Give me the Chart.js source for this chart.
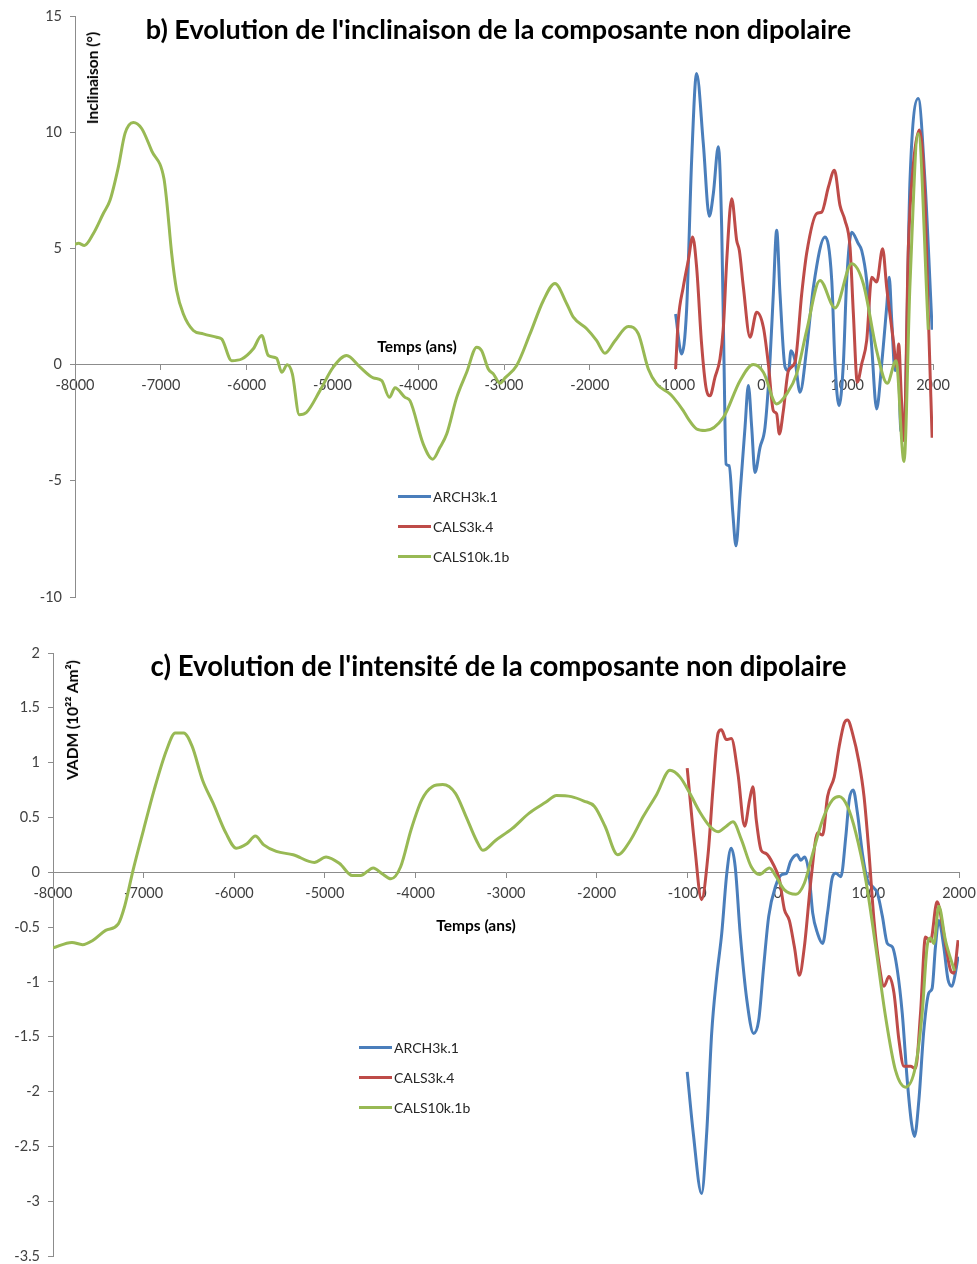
<!DOCTYPE html>
<html lang="fr">
<head>
<meta charset="utf-8">
<script src="https://cdn.jsdelivr.net/npm/chart.js@4.4.1/dist/chart.umd.min.js"></script>
<style>
  body { margin: 0; background: #fff; width: 977px; height: 1264px; position: relative; overflow: hidden; font-family: Lato, "Liberation Sans", sans-serif; }
  .panel { position: absolute; left: 0; width: 977px; }
  .panel canvas { position: absolute; left: 0; top: 0; }
  .title { position: absolute; left: 10px; width: 977px; text-align: center; font-weight: bold; font-size: 27px; color: #000; line-height: 30px; }
  .axis-title { position: absolute; font-weight: bold; font-size: 15.5px; color: #000; white-space: nowrap; line-height: 18px; }
  .vertical { transform: translate(-50%, -50%) rotate(-90deg); }
  .centered { transform: translate(-50%, -50%); }
  .legend { position: absolute; font-size: 14px; color: #262626; }
  .legend .item { height: 29.7px; display: flex; align-items: center; }
  .legend .line { display: inline-block; width: 33px; height: 3px; margin-right: 2px; }
</style>
</head>
<body>

<div class="panel" id="panel-b" style="top:0;height:620px">
  <canvas id="chart-b" width="977" height="620"></canvas>
  <div class="title" style="top:14px">b) Evolution de l'inclinaison de la composante non dipolaire</div>
  <div class="axis-title vertical" style="left:92px;top:78px">Inclinaison (°)</div>
  <div class="axis-title centered" style="left:417px;top:346px">Temps (ans)</div>
  <div class="legend" id="legend-b" style="left:398px;top:482px"></div>
</div>

<div class="panel" id="panel-c" style="top:620px;height:644px">
  <canvas id="chart-c" width="977" height="644"></canvas>
  <div class="title" style="top:31px;font-size:27.6px">c) Evolution de l'intensité de la composante non dipolaire</div>
  <div class="axis-title vertical" style="left:72px;top:100px">VADM (10²² Am²)</div>
  <div class="axis-title centered" style="left:476px;top:305px">Temps (ans)</div>
  <div class="legend" id="legend-c" style="left:359px;top:413px"></div>
</div>

<script>
// Series names and colours
const seriesNames = ['ARCH3k.1', 'CALS3k.4', 'CALS10k.1b'];
const seriesColors = ['#4a7ebb', '#be4b48', '#98b954'];

// b) Inclination (degrees)
const inclYearsArch = [-1000, -930, -872, -813, -755, -677, -607, -560, -502, -463, -436, -412, -374, -335, -296, -249, -191, -152, -113, -75, -16, 42, 100, 139, 178, 217, 276, 315, 346, 392, 450, 528, 606, 742, 820, 858, 905, 955, 994, 1052, 1130, 1169, 1227, 1286, 1343, 1402, 1460, 1490, 1519, 1557, 1596, 1624, 1662, 1732, 1828, 1906, 1990];
const inclArch = [2.18, 0.46, 2.33, 8.8, 12.53, 9.51, 6.38, 7.36, 9.37, 5.92, 0.17, -4.28, -4.35, -6.29, -7.8, -5.57, -2.7, -0.9, -2.7, -4.64, -3.56, -2.7, 0.17, 3.05, 5.78, 3.05, -0.11, -0.26, 0.6, 0.17, -1.19, 0.7, 3.33, 5.49, 3.62, 0.03, -1.77, 0.03, 3.62, 5.7, 5.2, 4.91, 3.62, 0.75, -1.91, 0.03, 2.47, 3.76, 1.9, -0.26, 0.03, -2.84, -2.9, 7.93, 11.45, 7.93, 1.5];

const inclYearsCals3k = [-1000, -969, -911, -852, -801, -755, -697, -646, -599, -541, -483, -443, -404, -346, -288, -257, -210, -133, -55, 23, 81, 139, 178, 209, 256, 315, 392, 470, 528, 645, 703, 781, 851, 916, 974, 1033, 1072, 1118, 1169, 1227, 1286, 1343, 1413, 1460, 1538, 1577, 1600, 1631, 1662, 1713, 1772, 1841, 1906, 1945, 1990];
const inclCals3k = [-0.19, 1.9, 3.33, 4.48, 5.49, 4.19, 0.89, -0.98, -1.34, -0.55, 0.24, 1.61, 4.48, 7.14, 5.34, 4.91, 3.33, 1.18, 2.25, 1.61, 0.03, -1.98, -2.12, -2.99, -1.98, -0.26, 0.1, 3.05, 4.8, 6.5, 6.56, 7.64, 8.36, 6.85, 6.21, 5.06, 2.18, -0.76, 0.03, 1.03, 3.76, 3.55, 4.99, 3.33, 1.03, -0.11, 0.89, -1.41, -3.28, 5.06, 8.65, 10.09, 7.21, 2.18, -3.15];

const inclYearsCals10k = [-8000, -7960, -7890, -7787, -7670, -7592, -7495, -7417, -7320, -7223, -7106, -6963, -6932, -6873, -6815, -6737, -6621, -6505, -6349, -6290, -6174, -6057, -5922, -5824, -5747, -5650, -5591, -5526, -5467, -5386, -5300, -5145, -4990, -4834, -4678, -4523, -4425, -4336, -4270, -4154, -4096, -3941, -3830, -3746, -3668, -3551, -3435, -3318, -3260, -3183, -3124, -3047, -2988, -2852, -2697, -2541, -2406, -2269, -2192, -2036, -1920, -1823, -1706, -1551, -1434, -1318, -1221, -1066, -1027, -911, -852, -755, -657, -443, -249, -94, 23, 178, 295, 411, 528, 683, 858, 1052, 1188, 1343, 1467, 1569, 1662, 1732, 1828, 1945];
const inclCals10k = [5.17, 5.22, 5.13, 5.63, 6.5, 7.07, 8.5, 9.95, 10.42, 10.16, 9.2, 8.0, 7.07, 4.77, 3.19, 2.18, 1.47, 1.32, 1.18, 1.1, 0.17, 0.24, 0.68, 1.25, 0.39, 0.27, -0.33, -0.01, -0.4, -2.16, -2.05, -1.12, -0.11, 0.39, -0.11, -0.57, -0.69, -1.41, -1.0, -1.41, -1.55, -3.42, -4.07, -3.56, -2.99, -1.41, -0.33, 0.75, 0.6, -0.19, -0.4, -0.8, -0.57, -0.04, 1.32, 2.76, 3.49, 2.62, 2.04, 1.54, 1.03, 0.49, 1.03, 1.64, 1.32, -0.19, -0.83, -1.26, -1.41, -1.98, -2.34, -2.77, -2.84, -2.27, -0.69, 0.0, -0.33, -1.69, -1.26, -0.4, 1.47, 3.62, 2.44, 4.34, 3.48, 0.6, -0.8, 0.17, -4.17, 3.48, 9.94, 1.5];

// c) Intensity, VADM (10^22 Am^2)
const vadmYearsArch = [-1000, -933, -841, -785, -730, -674, -619, -563, -515, -470, -415, -341, -267, -211, -156, -100, -26, 48, 96, 141, 215, 252, 296, 344, 385, 440, 495, 549, 604, 641, 696, 751, 788, 832, 879, 934, 989, 1044, 1099, 1154, 1209, 1264, 1319, 1374, 1429, 1476, 1509, 1557, 1612, 1667, 1703, 1740, 1777, 1832, 1879, 1923, 1960, 1990];
const vadmArch = [-1.82, -2.38, -2.93, -2.38, -1.47, -0.95, -0.56, -0.01, 0.22, 0.05, -0.56, -1.17, -1.47, -1.35, -0.86, -0.4, -0.13, -0.02, -0.01, 0.1, 0.16, 0.11, 0.14, -0.01, -0.37, -0.56, -0.65, -0.37, -0.04, -0.01, -0.04, 0.33, 0.66, 0.75, 0.54, 0.17, -0.07, -0.13, -0.19, -0.4, -0.65, -0.68, -0.89, -1.29, -1.9, -2.29, -2.41, -2.08, -1.44, -1.1, -1.06, -0.68, -0.44, -0.68, -0.98, -1.04, -0.92, -0.77];

const vadmYearsCals3k = [-1000, -916, -842, -769, -714, -659, -623, -568, -513, -440, -366, -311, -275, -238, -183, -128, -55, 18, 73, 128, 183, 238, 293, 366, 440, 495, 549, 623, 678, 733, 769, 824, 897, 952, 1007, 1062, 1117, 1172, 1227, 1282, 1337, 1392, 1465, 1520, 1575, 1630, 1685, 1758, 1832, 1905, 1941, 1990];
const vadmCals3k = [0.95, 0.23, -0.25, 0.17, 0.78, 1.27, 1.3, 1.21, 1.22, 0.9, 0.42, 0.66, 0.78, 0.48, 0.2, 0.17, 0.08, -0.07, -0.34, -0.44, -0.68, -0.94, -0.68, -0.07, 0.36, 0.34, 0.69, 0.87, 1.15, 1.36, 1.39, 1.27, 1.0, 0.69, 0.17, -0.44, -0.83, -1.04, -0.95, -1.1, -1.53, -1.77, -1.77, -1.79, -1.29, -0.59, -0.63, -0.27, -0.56, -0.89, -0.92, -0.62];

const vadmYearsCals10k = [-8000, -7791, -7674, -7558, -7419, -7279, -7209, -7116, -7000, -6884, -6744, -6651, -6558, -6465, -6349, -6233, -6093, -5977, -5860, -5767, -5674, -5535, -5349, -5116, -4986, -4837, -4698, -4605, -4465, -4372, -4270, -4163, -4047, -3930, -3814, -3698, -3558, -3442, -3326, -3256, -3116, -2930, -2744, -2558, -2442, -2279, -2140, -2023, -1907, -1767, -1628, -1484, -1337, -1190, -1081, -971, -861, -751, -659, -568, -495, -403, -293, -201, -92, -18, 73, 201, 293, 385, 495, 604, 678, 769, 861, 971, 1081, 1190, 1300, 1410, 1520, 1593, 1648, 1685, 1722, 1777, 1850, 1950];
const vadmCals10k = [-0.69, -0.64, -0.66, -0.62, -0.53, -0.47, -0.31, 0.02, 0.39, 0.75, 1.12, 1.27, 1.27, 1.15, 0.84, 0.63, 0.36, 0.22, 0.26, 0.33, 0.25, 0.19, 0.16, 0.09, 0.14, 0.08, -0.03, -0.03, 0.04, -0.01, -0.06, 0.05, 0.39, 0.66, 0.78, 0.8, 0.72, 0.51, 0.29, 0.2, 0.29, 0.4, 0.54, 0.64, 0.7, 0.69, 0.65, 0.6, 0.42, 0.16, 0.29, 0.51, 0.71, 0.93, 0.87, 0.72, 0.55, 0.42, 0.37, 0.42, 0.46, 0.3, 0.05, -0.02, 0.04, -0.04, -0.16, -0.2, -0.1, 0.17, 0.48, 0.66, 0.69, 0.6, 0.36, -0.07, -0.68, -1.32, -1.81, -1.96, -1.77, -1.29, -0.68, -0.6, -0.65, -0.31, -0.62, -0.9];

const xTicks = [-8000, -7000, -6000, -5000, -4000, -3000, -2000, -1000, 0, 1000, 2000];

const axisColor = '#8c8c8c';
const tickFont = { family: 'Lato, "Liberation Sans", sans-serif', size: 14.5 };
const tickColor = '#404040';

function toPoints(years, values) {
    return years.map((x, i) => ({ x, y: values[i] }));
}

function makeDataset(index, years, values) {
    return {
        label: seriesNames[index],
        data: toPoints(years, values),
        borderColor: seriesColors[index],
        borderWidth: 3,
        pointRadius: 0,
        cubicInterpolationMode: 'monotone',
        fill: false,
        order: 3 - index
    };
}

function makeChart(canvasId, datasets, yAxis, area) {
    return new Chart(document.getElementById(canvasId), {
        type: 'line',
        data: { datasets },
        options: {
            responsive: false,
            animation: false,
            events: [],
            layout: { padding: { top: area.top, right: area.right, bottom: area.bottom, left: 0 } },
            plugins: { legend: { display: false }, tooltip: { enabled: false }, title: { display: false } },
            scales: {
                x: {
                    type: 'linear',
                    min: -8000,
                    max: 2000,
                    position: { y: 0 },
                    afterBuildTicks: s => { s.ticks = xTicks.map(v => ({ value: v })); },
                    afterFit: s => { s.height = 0; s.paddingLeft = 0; s.paddingRight = 0; },
                    ticks: { font: tickFont, color: tickColor, padding: 7, maxRotation: 0, autoSkip: false, callback: v => String(v) },
                    grid: { drawOnChartArea: false, drawTicks: true, tickLength: 5, color: axisColor },
                    border: { color: axisColor, width: 1 }
                },
                y: {
                    type: 'linear',
                    position: 'left',
                    min: yAxis.min,
                    max: yAxis.max,
                    afterBuildTicks: s => { s.ticks = yAxis.ticks.map(v => ({ value: v })); },
                    afterFit: s => { s.width = area.left; s.paddingTop = 0; s.paddingBottom = 0; },
                    ticks: { font: tickFont, color: tickColor, padding: 8, callback: v => String(v) },
                    grid: { drawOnChartArea: false, drawTicks: true, tickLength: 5, color: axisColor },
                    border: { color: axisColor, width: 1 }
                }
            }
        }
    });
}

function buildLegend(id) {
    document.getElementById(id).innerHTML = seriesNames.map((name, i) => `
        <div class="item"><span class="line" style="background:${seriesColors[i]}"></span>${name}</div>
    `).join('');
}

makeChart('chart-b', [
    makeDataset(0, inclYearsArch, inclArch),
    makeDataset(1, inclYearsCals3k, inclCals3k),
    makeDataset(2, inclYearsCals10k, inclCals10k)
], { min: -10, max: 15, ticks: [-10, -5, 0, 5, 10, 15] }, { left: 75, top: 16, right: 44, bottom: 23 });

makeChart('chart-c', [
    makeDataset(0, vadmYearsArch, vadmArch),
    makeDataset(1, vadmYearsCals3k, vadmCals3k),
    makeDataset(2, vadmYearsCals10k, vadmCals10k)
], { min: -3.5, max: 2, ticks: [-3.5, -3, -2.5, -2, -1.5, -1, -0.5, 0, 0.5, 1, 1.5, 2] }, { left: 53, top: 33, right: 18, bottom: 8 });

buildLegend('legend-b');
buildLegend('legend-c');
</script>
</body>
</html>
